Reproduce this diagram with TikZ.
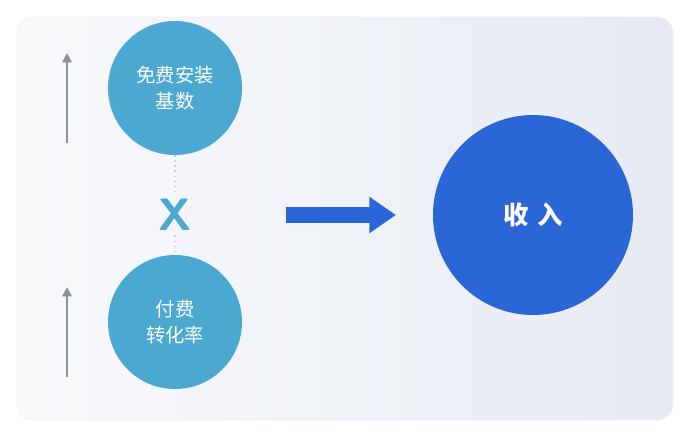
\documentclass[tikz,border=0pt]{standalone}
\usepackage{fontspec}
\newfontfamily\cjk{Noto Sans CJK SC}
\usetikzlibrary{arrows.meta}
\definecolor{lb}{HTML}{4AA8D1}
\definecolor{db}{HTML}{2B66D6}
\definecolor{ga}{HTML}{8A929E}
\definecolor{bgl}{HTML}{F8F9FB}
\definecolor{bgr}{HTML}{E6EBF3}
\tikzset{small/.style={circle,fill=lb,minimum size=134*0.75pt,inner sep=0pt,text=white,font=\cjk\fontsize{14.5}{20}\selectfont,align=center},
uparrow/.style={ga,line width=2.2pt,-{Triangle[length=7pt,width=7pt]}}}
\begin{document}
\begin{tikzpicture}[x=0.75pt,y=-0.75pt]
\useasboundingbox (0,0) rectangle (690,436);
\fill[white] (0,0) rectangle (690,436);
\shade[left color=bgl,right color=bgr,rounded corners=12pt,draw=gray!12] (17,17) rectangle (673,420);
\node[small] (a) at (175,88) {免费安装\\基数};
\node[small] (b) at (175,322) {付费\\转化率};
\node[text=lb,font=\sffamily\bfseries\fontsize{34}{34}\selectfont] (x) at (175,215) {X};
\draw[gray!40,line width=1.3pt,dash pattern=on 1.3pt off 2.5pt] (a) -- (x);
\draw[gray!40,line width=1.3pt,dash pattern=on 1.3pt off 2.5pt] (x) -- (b);
\coordinate (t1) at (67,143); \coordinate (t2) at (67,53);
\coordinate (b1) at (67,377); \coordinate (b2) at (67,287);
\draw[uparrow] (t1) -- (t2);
\draw[uparrow] (b1) -- (b2);
\node[circle,fill=db,minimum size=200*0.75pt,text=white,font=\cjk\bfseries\fontsize{19}{20}\selectfont] (r) at (533,215) {收\hspace{0.35em}入};
\coordinate (s) at (286,215); \coordinate (e) at (396,215);
\draw[db,line width=12pt,-{Triangle[length=20pt,width=26pt]}] (s) -- (e);
\end{tikzpicture}
\end{document}
